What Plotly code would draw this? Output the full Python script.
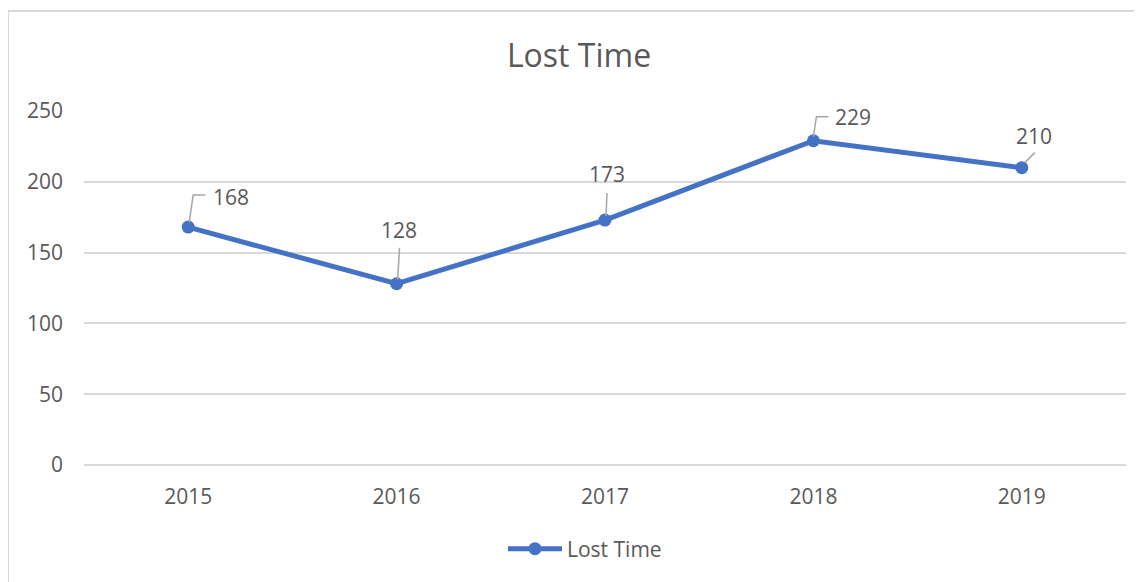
import plotly.graph_objects as go

years = ["2015", "2016", "2017", "2018", "2019"]
lost_time = [168, 128, 173, 229, 210]
series_name = "Lost Time"
y_ticks = [0, 50, 100, 150, 200, 250]

# label offsets (pixels) and leader-line paths (pixels, relative to point)
label_shift = [(43, 30), (2, 54), (2, 46), (40, 24), (12, 32)]
leader_paths = [
    "M 1,5 L 5,32 L 17,32",
    "M 1,4 L 3,36",
    "M 1,4 L 2,27",
    "M 0,4 L 3,24 L 15,24",
    "M 3,5 L 13,15",
]

BLUE = "#4472C4"
TXT = "#595959"
GRID = "#D9D9D9"
FONT = "Open Sans"

ML, MR, MT, MB = 76, 24, 103, 125
W = 1142.0 - ML - MR
H = 582.0 - MT - MB

fig = go.Figure()
fig.add_trace(go.Scatter(
    x=years, y=lost_time, name=series_name, mode="lines+markers",
    line=dict(color=BLUE, width=5),
    marker=dict(symbol="circle", size=13, color=BLUE),
))

for i, v in enumerate(lost_time):
    dx, dy = label_shift[i]
    fig.add_annotation(x=i, y=v, xref="x", yref="y", text=str(v),
                       showarrow=False, xshift=dx, yshift=dy,
                       font=dict(family=FONT, size=21, color=TXT))
    fig.add_shape(type="path", xref="x", yref="y",
                  xsizemode="pixel", ysizemode="pixel",
                  xanchor=i, yanchor=v, path=leader_paths[i],
                  line=dict(color="#A6A6A6", width=1.5), layer="above")

# outer chart-area border
fig.add_shape(type="rect", xref="paper", yref="paper",
              x0=(0 - ML) / W, x1=(1160 - ML) / W,
              y0=-(MB + 40) / H, y1=(H + MT - 3) / H,
              line=dict(color=GRID, width=2), fillcolor="rgba(0,0,0,0)", layer="below")

fig.update_layout(
    width=1142, height=582,
    margin=dict(l=ML, r=MR, t=MT, b=MB),
    paper_bgcolor="white", plot_bgcolor="white",
    font=dict(family=FONT, size=21, color=TXT),
    title=dict(text="Lost Time", x=0.5, xanchor="center", y=(582 - 48) / 582, yanchor="middle",
               font=dict(family=FONT, size=32, color=TXT)),
    showlegend=True,
    legend=dict(orientation="h", x=(495 - ML) / W, xanchor="left", y=-84 / H, yanchor="middle",
                itemwidth=54,
                font=dict(family=FONT, size=21, color=TXT)),
    xaxis=dict(type="category", range=[-0.5, 4.5], showgrid=False, showline=False, zeroline=False,
               ticks="", ticklabelstandoff=17, tickfont=dict(size=21, color=TXT)),
    yaxis=dict(range=[0, 250], tickvals=y_ticks, showgrid=True, gridcolor=GRID, gridwidth=1.5,
               zeroline=True, zerolinecolor=GRID, zerolinewidth=1.5, showline=False,
               ticks="", ticklabelstandoff=20, tickfont=dict(size=21, color=TXT)),
)

fig.write_html("out.html")
